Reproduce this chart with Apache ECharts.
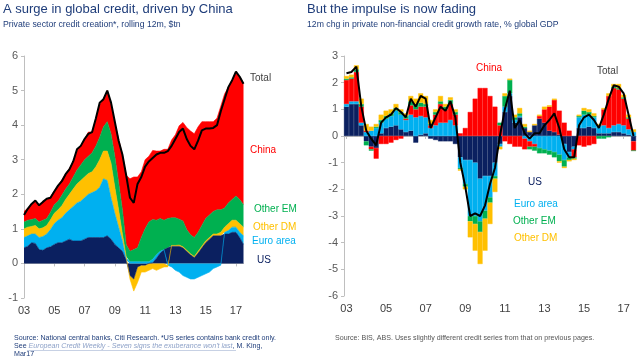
<!DOCTYPE html>
<html><head><meta charset="utf-8">
<script src="https://cdn.jsdelivr.net/npm/echarts@6/dist/echarts.min.js"></script>
<style>html,body{margin:0;padding:0;background:#fff}#c{width:640px;height:362px}</style>
</head><body><div id="c"></div>
<script>
// ---- time (quarterly, decimal years) ----
const quarters = [2003,2003.25,2003.5,2003.75,2004,2004.25,2004.5,2004.75,2005,2005.25,2005.5,2005.75,
 2006,2006.25,2006.5,2006.75,2007,2007.25,2007.5,2007.75,2008,2008.25,2008.5,2008.75,
 2009,2009.25,2009.5,2009.75,2010,2010.25,2010.5,2010.75,2011,2011.25,2011.5,2011.75,
 2012,2012.25,2012.5,2012.75,2013,2013.25,2013.5,2013.75,2014,2014.25,2014.5,2014.75,
 2015,2015.25,2015.5,2015.75,2016,2016.25,2016.5,2016.75,2017,2017.25,2017.5];
const yearTicks = [2003,2005,2007,2009,2011,2013,2015,2017];

// ---- left panel: private sector credit creation, rolling 12m, $tn ----
const leftUS = [0.45,0.50,0.60,0.58,0.40,0.38,0.45,0.48,0.55,0.60,0.60,0.65,0.70,0.65,0.65,0.65,0.70,0.75,0.75,0.75,
 0.75,0.75,0.80,0.70,0.55,0.45,0.35,0.10,-0.35,-0.45,-0.10,-0.05,-0.05,0.00,0.02,0.15,0.30,0.40,0.45,0.50,
 0.50,0.50,0.45,0.35,0.25,0.17,0.30,0.45,0.60,0.70,0.80,0.80,0.80,0.85,0.85,0.90,0.90,0.75,0.55];
const leftEuro = [0.30,0.30,0.25,0.27,0.35,0.40,0.40,0.50,0.60,0.65,0.72,0.80,0.85,1.00,1.10,1.15,1.20,1.25,1.30,1.35,
 1.45,1.70,1.60,1.20,0.90,0.60,0.30,0.05,0.05,0.05,0.05,0.05,0.05,0.05,0.10,0.10,0.05,0.00,-0.05,-0.10,
 -0.20,-0.25,-0.35,-0.40,-0.45,-0.45,-0.40,-0.35,-0.30,-0.25,-0.15,-0.10,-0.05,0.05,0.10,0.15,0.15,0.15,0.25];
const leftOtherDM = [0.25,0.25,0.22,0.25,0.25,0.25,0.25,0.28,0.30,0.30,0.35,0.40,0.45,0.50,0.55,0.60,0.60,0.60,0.60,0.70,
 0.80,0.80,0.85,1.00,0.75,0.50,0.20,0.05,-0.10,-0.35,-0.45,-0.20,-0.20,-0.20,-0.15,-0.20,-0.15,-0.10,-0.05,0.02,
 0.02,0.03,0.03,0.03,0.03,0.03,0.05,0.05,0.05,0.05,0.05,0.05,0.10,0.15,0.20,0.20,0.20,0.25,0.25];
const leftOtherEM = [0.20,0.20,0.20,0.20,0.20,0.22,0.20,0.22,0.25,0.25,0.30,0.30,0.30,0.35,0.40,0.45,0.50,0.50,0.55,0.60,
 0.65,0.70,0.85,0.85,0.90,0.80,0.70,0.35,0.30,0.35,0.40,0.70,0.95,1.15,1.15,1.00,0.95,0.85,0.85,0.80,
 0.80,0.75,0.75,0.60,0.55,0.55,0.55,0.60,0.65,0.65,0.65,0.70,0.65,0.55,0.60,0.60,0.70,0.70,0.65];
const leftChina = [0.30,0.35,0.45,0.50,0.50,0.55,0.55,0.45,0.40,0.45,0.45,0.45,0.45,0.45,0.55,0.55,0.60,0.70,0.60,0.80,
 0.95,0.80,0.90,0.85,0.95,1.25,1.60,2.00,2.10,2.10,2.05,1.90,2.00,1.90,2.00,2.00,1.95,2.05,2.00,2.25,
 2.40,2.70,2.85,2.95,3.00,3.00,3.05,3.00,2.80,2.70,2.60,2.65,3.00,3.30,3.35,3.45,3.55,3.55,3.50];
const leftTotal = [1.40,1.58,1.72,1.82,1.68,1.78,1.87,1.90,2.08,2.25,2.38,2.58,2.72,2.95,3.30,3.40,3.60,3.75,3.80,4.20,
 4.65,4.75,5.00,4.65,4.10,3.55,3.15,2.55,1.90,1.75,2.30,2.50,2.80,2.95,3.05,3.15,3.20,3.20,3.25,3.40,
 3.60,3.80,3.90,3.60,3.40,3.30,3.55,3.85,3.90,3.90,3.92,4.00,4.40,4.75,5.10,5.30,5.55,5.40,5.20];

// ---- right panel: 12m chg in private non-financial credit growth, % global GDP ----
const rightUS = [1.10,1.20,1.20,0.40,-0.20,-0.40,-0.45,0.10,0.30,0.35,0.40,0.25,0.15,0.20,-0.25,0.05,0.10,-0.10,-0.15,-0.20,
 -0.20,-0.20,-0.30,-0.80,-0.90,-0.90,-1.00,-1.60,-1.50,-1.50,-1.00,-0.30,0.90,1.50,0.50,0.70,0.30,0.15,0.40,0.65,
 0.50,0.20,0.15,0.05,-0.30,-0.60,-0.40,0.30,0.30,0.35,0.30,0.10,0.10,0.10,0.15,0.15,0.10,0.05,-0.20];
const rightEuro = [0.10,0.10,0.10,0.10,0.15,0.20,0.30,0.40,0.35,0.40,0.55,0.55,0.45,0.60,0.70,0.70,0.60,0.30,0.40,0.50,
 0.50,0.60,0.40,-0.40,-0.90,-2.10,-2.00,-1.60,-1.30,-0.80,-0.50,-0.10,0.20,0.10,0.10,0.05,-0.10,-0.20,-0.30,-0.45,
 -0.50,-0.55,-0.60,-0.70,-0.60,-0.20,-0.10,0.40,0.50,0.45,0.40,0.30,0.30,0.20,0.25,0.30,0.30,0.20,0.15];
const rightChina = [0.90,0.85,1.10,0.60,0.05,-0.10,-0.40,-0.30,-0.30,-0.25,-0.15,-0.10,0.05,0.35,0.30,0.35,0.40,0.10,0.40,0.70,
 0.50,0.60,0.40,0.10,0.30,0.90,1.40,1.80,1.80,1.50,1.10,0.40,-0.20,-0.30,-0.40,-0.40,-0.40,-0.20,-0.10,0.10,
 0.50,0.90,1.20,0.90,0.50,0.20,-0.30,-0.35,-0.40,-0.35,-0.30,0.00,0.60,1.20,1.40,1.30,1.00,0.40,-0.35];
const rightOtherEM = [0.05,0.05,0.10,0.10,-0.15,-0.05,0.05,0.10,0.10,0.10,0.10,0.10,0.10,0.15,0.20,0.15,0.10,0.05,0.10,0.10,
 0.10,0.15,0.10,-0.05,-0.10,-0.20,-0.30,-0.40,-0.30,-0.20,-0.10,0.10,0.40,0.50,0.10,0.10,0.05,-0.10,-0.15,-0.20,
 -0.15,-0.15,-0.20,-0.25,-0.25,-0.10,-0.05,0.05,0.15,0.10,0.05,-0.10,-0.10,-0.05,0.05,0.05,0.05,0.05,0.00];
const rightOtherDM = [0.10,0.10,0.15,0.20,0.25,0.15,0.10,0.20,0.20,0.15,0.15,0.10,0.10,0.20,0.20,0.35,0.30,0.15,0.10,0.20,
 0.10,0.10,0.10,-0.05,-0.10,-0.60,-1.00,-1.20,-1.20,-0.80,-0.50,-0.10,0.10,0.05,0.10,0.20,0.10,0.05,0.05,0.05,
 0.10,0.05,0.05,-0.05,-0.05,-0.05,-0.05,0.05,0.10,0.10,0.10,0.05,0.05,0.10,0.10,0.15,0.10,0.10,0.10];
const rightTotal = [2.35,2.40,2.60,1.10,0.20,-0.10,-0.35,0.50,0.70,0.80,1.05,0.90,0.70,1.40,1.10,1.50,1.40,0.30,0.70,1.10,
 0.95,1.30,0.70,-1.00,-1.90,-3.00,-2.90,-3.00,-2.60,-1.80,-1.20,0.00,1.00,1.70,0.30,0.60,0.10,-0.10,0.10,0.10,
 0.40,0.60,0.85,0.30,-0.50,-0.80,-0.80,0.40,0.70,0.80,0.60,0.30,0.80,1.40,1.90,1.85,1.60,0.80,0.00];

const COL = {us:'#0b2060', euro:'#00b0f0', dm:'#ffc000', em:'#00b050', china:'#ff0000'};
const FONT = '"Liberation Sans", Arial, sans-serif';
const NAVY = '#1f3d7a';
const cats = quarters.map(String);
const isYearTick = (i, v) => yearTicks.indexOf(Number(v)) >= 0;

function areaSeries(arr, color){
  return {type:'line', xAxisIndex:0, yAxisIndex:0, stack:'L', stackStrategy:'samesign', data:arr, symbol:'none', silent:true,
    lineStyle:{color, width:0.6}, areaStyle:{color, opacity:1}, itemStyle:{color}, z:2};
}
function barSeries(arr, color){
  return {type:'bar', xAxisIndex:2, yAxisIndex:1, stack:'R', stackStrategy:'samesign', data:arr, silent:true,
    barCategoryGap:'0%', itemStyle:{color, borderColor:color, borderWidth:0.4}, z:2};
}

function labelAxis(grid, gap){
  return {gridIndex:grid, type:'category', data:cats, boundaryGap:gap, position:'bottom',
    axisLine:{show:false, onZero:false}, axisTick:{show:false}, splitLine:{show:false},
    axisLabel:{interval:isYearTick, formatter:v=>String(v).slice(2,4), color:'#404040', fontSize:11, fontFamily:FONT, margin:7}};
}
function zeroAxis(grid, gap){
  return {gridIndex:grid, type:'category', data:cats, boundaryGap:gap, position:'top',
    axisLine:{show:true, onZero:true, lineStyle:{color:'#bfbfbf', width:1}},
    axisTick:{show:true, inside:true, length:3, interval:isYearTick, alignWithLabel:true, lineStyle:{color:'#bfbfbf'}},
    axisLabel:{show:false, interval:isYearTick}, splitLine:{show:false}};
}
function yAx(grid, min, max){
  return {gridIndex:grid, type:'value', min, max, interval:1,
    axisLine:{show:true, onZero:false, lineStyle:{color:'#bfbfbf'}},
    axisTick:{show:true, length:3, lineStyle:{color:'#bfbfbf'}}, splitLine:{show:false},
    axisLabel:{color:'#595959', fontSize:11, fontFamily:FONT, margin:6}};
}

function txt(left, top, text, color, size, extra){
  return Object.assign({type:'text', left, top, silent:true,
    style:{text, fill:color, fontSize:size, fontFamily:FONT}}, extra||{});
}

const option = {
  animation:false,
  backgroundColor:'#fff',
  grid:[
    {left:24, top:56, width:219.5, height:242},
    {left:344, top:56, width:292, height:240}
  ],
  xAxis:[labelAxis(0,false), zeroAxis(0,false), labelAxis(1,true), zeroAxis(1,true)],
  yAxis:[yAx(0,-1,6), yAx(1,-6,3)],
  series:[
    areaSeries(leftUS, COL.us),
    areaSeries(leftEuro, COL.euro),
    areaSeries(leftOtherDM, COL.dm),
    areaSeries(leftOtherEM, COL.em),
    areaSeries(leftChina, COL.china),
    {type:'line', xAxisIndex:0, yAxisIndex:0, data:leftTotal, symbol:'none', silent:true,
      lineStyle:{color:'#000', width:2}, z:5},
    barSeries(rightUS, COL.us),
    barSeries(rightEuro, COL.euro),
    barSeries(rightChina, COL.china),
    barSeries(rightOtherEM, COL.em),
    barSeries(rightOtherDM, COL.dm),
    {type:'line', xAxisIndex:2, yAxisIndex:1, data:rightTotal, symbol:'none', silent:true,
      lineStyle:{color:'#000', width:2}, z:5}
  ],
  graphic:[
    txt(3, 3, 'A surge in global credit, driven by China', NAVY, 13),
    txt(3, 20, 'Private sector credit creation*, rolling 12m, $tn', NAVY, 8.7),
    txt(307, 3, 'But the impulse is now fading', NAVY, 13),
    txt(307, 20, '12m chg in private non-financial credit growth rate, % global GDP', NAVY, 8.7),
    // left series labels
    txt(250, 73, 'Total', '#404040', 10),
    txt(250, 145, 'China', COL.china, 10),
    txt(254, 204, 'Other EM', COL.em, 10),
    txt(253, 222, 'Other DM', COL.dm, 10),
    txt(252, 236, 'Euro area', COL.euro, 10),
    txt(257, 255, 'US', COL.us, 10),
    // right series labels
    txt(476, 63, 'China', COL.china, 10),
    txt(597, 66, 'Total', '#404040', 10),
    txt(528, 177, 'US', COL.us, 10),
    txt(514, 199, 'Euro area', COL.euro, 10),
    txt(513, 216, 'Other EM', COL.em, 10),
    txt(514, 233, 'Other DM', COL.dm, 10),
    // sources
    txt(14, 335, 'Source: National central banks, Citi Research. *US series contains bank credit only.', NAVY, 7.1),
    {type:'text', left:14, top:343, silent:true, style:{text:'{n|See }{l|European Credit Weekly - Seven signs the exuberance won\'t last}{n|, M. King,}',
      fontSize:7.1, fontFamily:FONT, rich:{n:{fill:NAVY, fontSize:7.1, fontFamily:FONT}, l:{fill:'#8ea2c8', fontStyle:'italic', fontSize:7.1, fontFamily:FONT}}}},
    {type:'line', silent:true, shape:{x1:27, y1:350.5, x2:236, y2:350.5}, style:{stroke:'#8ea2c8', lineWidth:0.5}},
    txt(14, 351, 'Mar17', NAVY, 7.1),
    txt(335, 335, 'Source: BIS, ABS. Uses slightly different credit series from that on previous pages.', '#555555', 7.1)
  ]
};
const chart = echarts.init(document.getElementById('c'), null, {renderer:'canvas'});
chart.setOption(option);
</script>
</body></html>
